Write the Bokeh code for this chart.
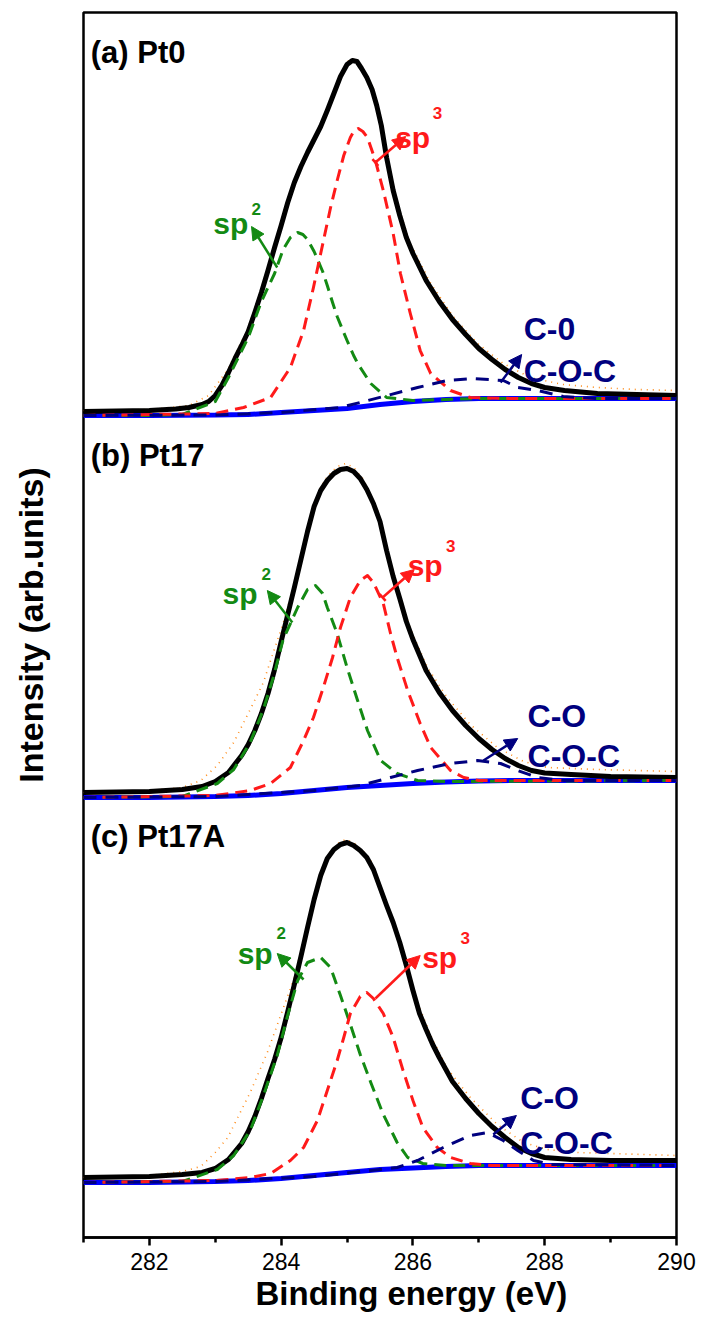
import numpy as np
from bokeh.plotting import figure
from bokeh.models import Range1d, FixedTicker, Label, Arrow, NormalHead, TeeHead, Title
from bokeh.embed import file_html
from bokeh.resources import INLINE

# ---------------- C 1s spectra, binding energy (eV) vs intensity (arb. units) ----------------
# (a) Pt0
a_bg_e = [281.0, 282.0, 283.0, 283.5, 284.0, 284.5, 285.0, 285.5, 286.0, 286.5, 287.0, 287.5, 288.0, 289.0, 290.0]
a_bg_i = [0.00, 0.00, 0.005, 0.01, 0.03, 0.05, 0.07, 0.11, 0.14, 0.16, 0.17, 0.17, 0.17, 0.17, 0.17]
a_fit_e = [281.0, 281.5, 282.0, 282.4, 282.6, 282.8, 282.9, 283.0, 283.1, 283.2, 283.3, 283.4, 283.5, 283.6,
           283.7, 283.8, 283.9, 284.0, 284.1, 284.2, 284.3, 284.4, 284.5, 284.6, 284.7, 284.8, 284.9, 285.0,
           285.08, 285.15, 285.22, 285.3, 285.38, 285.45, 285.52, 285.6, 285.7, 285.8, 285.9, 286.0, 286.2,
           286.4, 286.6, 286.8, 287.0, 287.2, 287.4, 287.6, 287.8, 288.0, 288.3, 288.8, 289.4, 290.0]
a_fit_i = [0.04, 0.045, 0.05, 0.065, 0.08, 0.11, 0.14, 0.20, 0.30, 0.43, 0.57, 0.70, 0.84, 1.03,
           1.23, 1.45, 1.68, 1.90, 2.13, 2.33, 2.49, 2.63, 2.76, 2.89, 3.05, 3.22, 3.39, 3.51,
           3.55, 3.54, 3.47, 3.38, 3.26, 3.10, 2.90, 2.58, 2.25, 2.00, 1.78, 1.62, 1.35,
           1.14, 0.96, 0.81, 0.67, 0.56, 0.46, 0.38, 0.32, 0.28, 0.25, 0.22, 0.21, 0.20]
a_raw_e = [281.0, 282.0, 282.6, 282.9, 283.19, 283.49, 283.69, 283.84, 283.99, 284.10, 284.25, 284.44, 284.64, 284.85,
           284.95, 285.05, 285.15, 285.25, 285.36, 285.46, 285.51, 285.61, 285.76, 285.96, 286.27, 286.61, 286.98,
           287.37, 287.78, 288.28, 288.80, 289.4, 290.0]
a_raw_i = [0.05, 0.06, 0.10, 0.20, 0.46, 0.86, 1.25, 1.58, 1.90, 2.16, 2.43, 2.70, 2.97, 3.33,
           3.49, 3.57, 3.55, 3.44, 3.32, 3.10, 2.95, 2.55, 2.12, 1.72, 1.32, 0.99, 0.72,
           0.52, 0.38, 0.31, 0.28, 0.26, 0.25]
a_sp2_e = [281.0, 282.0, 282.5, 283.0, 283.2, 283.5, 283.7, 283.9, 284.03, 284.14, 284.25, 284.33, 284.4, 284.5,
           284.63, 284.70, 284.78, 284.85, 284.93, 285.0, 285.10, 285.17, 285.36, 285.6, 286.0, 286.5, 287.0, 290.0]
a_sp2_i = [0.0, 0.0, 0.01, 0.14, 0.38, 0.78, 1.14, 1.42, 1.66, 1.78, 1.83, 1.81, 1.76, 1.64,
           1.44, 1.30, 1.13, 0.99, 0.86, 0.75, 0.60, 0.51, 0.32, 0.18, 0.15, 0.16, 0.17, 0.17]
a_sp3_e = [281.0, 283.0, 283.43, 283.84, 284.14, 284.34, 284.49, 284.60, 284.75, 284.85, 284.95, 285.05, 285.11,
           285.17, 285.24, 285.31, 285.43, 285.55, 285.70, 285.81, 285.96, 286.11, 286.27, 286.57, 286.87, 287.5, 290.0]
a_sp3_i = [0.0, 0.02, 0.08, 0.18, 0.48, 0.85, 1.28, 1.62, 2.08, 2.35, 2.60, 2.78, 2.85,
           2.87, 2.84, 2.78, 2.55, 2.25, 1.82, 1.42, 1.02, 0.65, 0.42, 0.25, 0.18, 0.17, 0.17]
a_co_e = [281.0, 283.0, 284.0, 284.9, 285.61, 286.07, 286.52, 286.92, 287.37, 287.59, 287.89, 288.28, 288.8, 290.0]
a_co_i = [0.0, 0.005, 0.03, 0.08, 0.20, 0.28, 0.35, 0.37, 0.35, 0.28, 0.25, 0.19, 0.17, 0.17]

# (b) Pt17
b_bg_e = [281.0, 282.0, 283.0, 283.5, 284.0, 284.5, 285.0, 285.5, 286.0, 286.5, 287.0, 287.5, 290.0]
b_bg_i = [0.0, 0.0, 0.01, 0.02, 0.04, 0.07, 0.10, 0.12, 0.14, 0.155, 0.165, 0.17, 0.17]
b_fit_e = [281.0, 282.0, 282.5, 282.8, 283.0, 283.2, 283.4, 283.5, 283.6, 283.7, 283.8, 283.9, 284.0, 284.1,
           284.2, 284.3, 284.4, 284.5, 284.6, 284.7, 284.8, 284.9, 285.0, 285.1, 285.2, 285.3, 285.4, 285.5,
           285.6, 285.7, 285.8, 285.9, 286.0, 286.2, 286.4, 286.6, 286.8, 287.0, 287.2, 287.4, 287.6, 287.8,
           288.0, 288.4, 289.0, 290.0]
b_fit_i = [0.05, 0.06, 0.08, 0.11, 0.16, 0.25, 0.42, 0.53, 0.67, 0.84, 1.04, 1.28, 1.56, 1.83,
           2.10, 2.38, 2.66, 2.91, 3.07, 3.17, 3.24, 3.28, 3.29, 3.26, 3.19, 3.08, 2.94, 2.76,
           2.47, 2.21, 1.99, 1.76, 1.58, 1.27, 1.05, 0.87, 0.72, 0.59, 0.48, 0.39, 0.32, 0.27,
           0.245, 0.23, 0.21, 0.20]
b_raw_e = [281.0, 282.0, 282.5, 282.78, 283.03, 283.28, 283.53, 283.73, 283.88, 284.03, 284.19, 284.34, 284.49,
           284.60, 284.70, 284.85, 284.98, 285.10, 285.25, 285.46, 285.61, 285.76, 285.96, 286.22, 286.52, 286.87,
           287.28, 287.68, 288.04, 288.80, 290.0]
b_raw_i = [0.05, 0.07, 0.10, 0.17, 0.32, 0.55, 0.88, 1.15, 1.45, 1.74, 2.12, 2.53, 2.93,
           3.10, 3.21, 3.31, 3.34, 3.30, 3.18, 2.88, 2.48, 2.11, 1.69, 1.30, 1.00, 0.73,
           0.50, 0.36, 0.30, 0.28, 0.26]
b_sp2_e = [281.0, 282.5, 283.03, 283.28, 283.53, 283.73, 283.88, 284.03, 284.25, 284.40, 284.52, 284.63, 284.70,
           284.85, 285.0, 285.16, 285.31, 285.51, 285.76, 286.07, 286.5, 290.0]
b_sp2_i = [0.0, 0.01, 0.14, 0.28, 0.55, 0.88, 1.20, 1.58, 1.90, 2.08, 2.12, 2.04, 1.90,
           1.64, 1.30, 0.97, 0.67, 0.37, 0.24, 0.17, 0.16, 0.17]
b_sp3_e = [281.0, 283.0, 283.53, 283.84, 284.14, 284.34, 284.49, 284.64, 284.78, 284.90, 285.05, 285.20, 285.31,
           285.40, 285.55, 285.66, 285.76, 285.92, 286.11, 286.27, 286.57, 286.77, 287.0, 290.0]
b_sp3_i = [0.0, 0.02, 0.07, 0.14, 0.30, 0.57, 0.80, 1.10, 1.40, 1.70, 2.00, 2.17, 2.22,
           2.15, 1.94, 1.64, 1.40, 1.07, 0.74, 0.50, 0.27, 0.20, 0.17, 0.17]
b_co_e = [281.0, 283.0, 284.5, 285.2, 285.66, 286.07, 286.57, 286.98, 287.33, 287.59, 287.89, 288.3, 290.0]
b_co_i = [0.0, 0.01, 0.07, 0.12, 0.20, 0.27, 0.34, 0.37, 0.34, 0.27, 0.20, 0.17, 0.17]

# (c) Pt17A
c_bg_e = [281.0, 282.0, 283.0, 283.5, 284.0, 284.5, 285.0, 285.5, 286.0, 286.5, 287.0, 290.0]
c_bg_i = [0.0, 0.0, 0.01, 0.02, 0.04, 0.07, 0.10, 0.13, 0.145, 0.16, 0.17, 0.17]
c_fit_e = [281.0, 282.0, 282.5, 282.8, 283.0, 283.2, 283.4, 283.5, 283.6, 283.7, 283.8, 283.9, 284.0, 284.1,
           284.2, 284.3, 284.4, 284.5, 284.6, 284.7, 284.8, 284.9, 285.0, 285.1, 285.2, 285.3, 285.4, 285.5,
           285.6, 285.7, 285.8, 285.9, 286.0, 286.1, 286.2, 286.3, 286.4, 286.6, 286.8, 287.0, 287.2, 287.4,
           287.6, 287.8, 288.0, 288.4, 289.0, 290.0]
c_fit_i = [0.05, 0.06, 0.08, 0.10, 0.14, 0.23, 0.39, 0.51, 0.66, 0.84, 1.04, 1.23, 1.45, 1.71,
           1.98, 2.26, 2.55, 2.83, 3.07, 3.24, 3.33, 3.38, 3.40, 3.37, 3.32, 3.25, 3.13, 2.95,
           2.77, 2.60, 2.40, 2.17, 1.92, 1.69, 1.53, 1.38, 1.25, 1.01, 0.84, 0.69, 0.56, 0.45,
           0.35, 0.29, 0.25, 0.23, 0.22, 0.22]
c_raw_e = [281.0, 282.0, 282.5, 282.78, 283.0, 283.19, 283.53, 283.79, 284.03, 284.2, 284.4, 284.55, 284.75,
           284.88, 284.98, 285.10, 285.25, 285.36, 285.55, 285.76, 285.92, 286.07, 286.27, 286.52, 286.87, 287.28,
           287.68, 288.04, 288.5, 289.0, 290.0]
c_raw_i = [0.05, 0.07, 0.11, 0.16, 0.30, 0.45, 0.90, 1.30, 1.74, 2.05, 2.58, 2.97, 3.31,
           3.40, 3.43, 3.40, 3.31, 3.22, 2.88, 2.52, 2.16, 1.80, 1.47, 1.14, 0.85, 0.58,
           0.40, 0.33, 0.30, 0.29, 0.27]
c_sp2_e = [281.0, 282.5, 283.03, 283.28, 283.53, 283.73, 283.94, 284.09, 284.25, 284.40, 284.60, 284.75, 284.90,
           285.05, 285.20, 285.36, 285.55, 285.76, 285.92, 286.15, 286.5, 290.0]
c_sp2_i = [0.0, 0.01, 0.13, 0.27, 0.52, 0.87, 1.27, 1.65, 2.02, 2.20, 2.25, 2.15, 1.87,
           1.58, 1.28, 1.00, 0.68, 0.40, 0.25, 0.19, 0.17, 0.17]
c_sp3_e = [281.0, 283.0, 283.53, 283.84, 284.14, 284.34, 284.55, 284.70, 284.85, 284.95, 285.05, 285.20, 285.30,
           285.40, 285.55, 285.70, 285.85, 286.0, 286.15, 286.37, 286.57, 286.87, 287.2, 290.0]
c_sp3_i = [0.0, 0.02, 0.05, 0.09, 0.22, 0.35, 0.62, 0.92, 1.22, 1.45, 1.69, 1.86, 1.90,
           1.84, 1.69, 1.45, 1.12, 0.82, 0.55, 0.35, 0.25, 0.19, 0.17, 0.17]
c_co_e = [281.0, 283.0, 284.5, 285.5, 285.76, 286.07, 286.46, 286.87, 287.13, 287.37, 287.59, 287.83, 288.1, 290.0]
c_co_i = [0.0, 0.01, 0.06, 0.13, 0.15, 0.22, 0.35, 0.47, 0.50, 0.42, 0.32, 0.22, 0.18, 0.17]

panel_names = ["(a) Pt0", "(b) Pt17", "(c) Pt17A"]
panel_offsets = [8.22, 4.40, 0.55]          # vertical stacking of the three spectra
x_ticks = [282, 284, 286, 288, 290]
x_minor_ticks = [281, 283, 285, 287, 289]

FONT = "Liberation Sans"
GREEN = "#138a13"
RED = "#ff1a1a"
NAVY = "#00007f"
BLUE = "#0000ff"
ORANGE = "#ff8c1a"

p = figure(width=701, height=1320, x_range=Range1d(281, 290), y_range=Range1d(0, 12.25),
           output_backend="svg", toolbar_location=None,
           min_border_left=83, min_border_right=25, min_border_top=12, min_border_bottom=83)
p.background_fill_color = "white"
p.border_fill_color = "white"
p.xgrid.visible = False
p.ygrid.visible = False
p.outline_line_color = "black"
p.outline_line_width = 2.5

ax = p.xaxis[0]
ax.ticker = FixedTicker(ticks=x_ticks, minor_ticks=x_minor_ticks)
ax.axis_line_width = 2.5
ax.major_tick_in = 0
ax.major_tick_out = 8
ax.minor_tick_in = 0
ax.minor_tick_out = 5
ax.major_tick_line_width = 2.5
ax.minor_tick_line_width = 2.5
ax.major_label_text_font = FONT
ax.major_label_text_font_size = "23px"
ax.major_label_text_color = "black"
ax.major_label_standoff = 7

# left axis carries only its title
ay = p.yaxis[0]
ay.ticker = FixedTicker(ticks=[])
ay.axis_line_color = None
ay.major_tick_line_color = None
ay.minor_tick_line_color = None
ay.axis_label = "Intensity (arb.units)"
ay.axis_label_text_font = FONT
ay.axis_label_text_font_size = "34px"
ay.axis_label_text_font_style = "bold"
ay.axis_label_text_color = "black"
ay.axis_label_standoff = 34

p.add_layout(Title(text="Binding energy (eV)", align="left", offset=172, standoff=0,
                   text_font=FONT, text_font_size="33px", text_font_style="bold",
                   text_color="black"), "below")

panels = [
    dict(bg=(a_bg_e, a_bg_i), fit=(a_fit_e, a_fit_i), raw=(a_raw_e, a_raw_i),
         sp2=(a_sp2_e, a_sp2_i), sp3=(a_sp3_e, a_sp3_i), co=(a_co_e, a_co_i)),
    dict(bg=(b_bg_e, b_bg_i), fit=(b_fit_e, b_fit_i), raw=(b_raw_e, b_raw_i),
         sp2=(b_sp2_e, b_sp2_i), sp3=(b_sp3_e, b_sp3_i), co=(b_co_e, b_co_i)),
    dict(bg=(c_bg_e, c_bg_i), fit=(c_fit_e, c_fit_i), raw=(c_raw_e, c_raw_i),
         sp2=(c_sp2_e, c_sp2_i), sp3=(c_sp3_e, c_sp3_i), co=(c_co_e, c_co_i)),
]

for curves, off in zip(panels, panel_offsets):
    def xy(key):
        e, i = curves[key]
        return e, np.asarray(i) + off
    p.line(*xy("raw"), line_color=ORANGE, line_width=1.6, line_dash="1 5")
    p.line(*xy("bg"), line_color=BLUE, line_width=5)
    p.line(*xy("fit"), line_color="black", line_width=5, line_join="round")
    p.line(*xy("sp2"), line_color=GREEN, line_width=3, line_dash="12 7", line_join="round")
    p.line(*xy("sp3"), line_color=RED, line_width=3, line_dash="12 7", line_join="round")
    p.line(*xy("co"), line_color=NAVY, line_width=3, line_dash="13 9", line_join="round")


def label(x, y, text, color="black", size="30px", **kw):
    p.add_layout(Label(x=x, y=y, text=text, text_color=color, text_font=FONT,
                       text_font_size=size, text_font_style="bold",
                       text_baseline="alphabetic", **kw))


def arrow(x0, y0, x1, y1, color, tee=False, width=2.5):
    p.add_layout(Arrow(x_start=x0, y_start=y0, x_end=x1, y_end=y1,
                       line_color=color, line_width=width,
                       end=NormalHead(size=13, fill_color=color, line_color=color, line_width=1),
                       start=TeeHead(size=9, line_color=color, line_width=2.5) if tee else None))


# panel titles
for name, y in zip(panel_names, [11.85, 7.82, 4.01]):
    label(281.11, y, name, size="31px")

SUP = "17px"
CO = "32px"

# (a) component annotations
label(282.97, 10.14, "sp", GREEN)
label(283.55, 10.29, "2", GREEN, size=SUP)
arrow(283.94, 9.70, 283.55, 10.11, GREEN)
label(285.73, 11.00, "sp", RED)
label(286.30, 11.25, "3", RED, size=SUP)
arrow(285.43, 10.75, 285.89, 11.01, RED, tee=True)
label(287.68, 9.09, "C-0", NAVY, size=CO)
label(287.68, 8.67, "C-O-C", NAVY, size=CO)
arrow(287.33, 8.55, 287.65, 8.83, NAVY)

# (b) component annotations
label(283.11, 6.44, "sp", GREEN)
label(283.70, 6.64, "2", GREEN, size=SUP)
arrow(284.17, 6.15, 283.79, 6.47, GREEN)
label(285.92, 6.72, "sp", RED)
label(286.50, 6.92, "3", RED, size=SUP)
arrow(285.54, 6.40, 286.02, 6.68, RED, tee=True)
label(287.74, 5.22, "C-O", NAVY, size=CO)
label(287.74, 4.82, "C-O-C", NAVY, size=CO)
arrow(287.07, 4.77, 287.59, 4.99, NAVY)

# (c) component annotations
label(283.34, 2.84, "sp", GREEN)
label(283.93, 3.05, "2", GREEN, size=SUP)
arrow(284.34, 2.58, 283.94, 2.84, GREEN)
label(286.14, 2.80, "sp", RED)
label(286.72, 3.00, "3", RED, size=SUP)
arrow(285.43, 2.39, 286.11, 2.82, RED)
label(287.63, 1.40, "C-O", NAVY, size=CO)
label(287.63, 0.95, "C-O-C", NAVY, size=CO)
arrow(287.22, 1.03, 287.57, 1.22, NAVY)

open("out.html", "w").write(file_html(p, INLINE))
